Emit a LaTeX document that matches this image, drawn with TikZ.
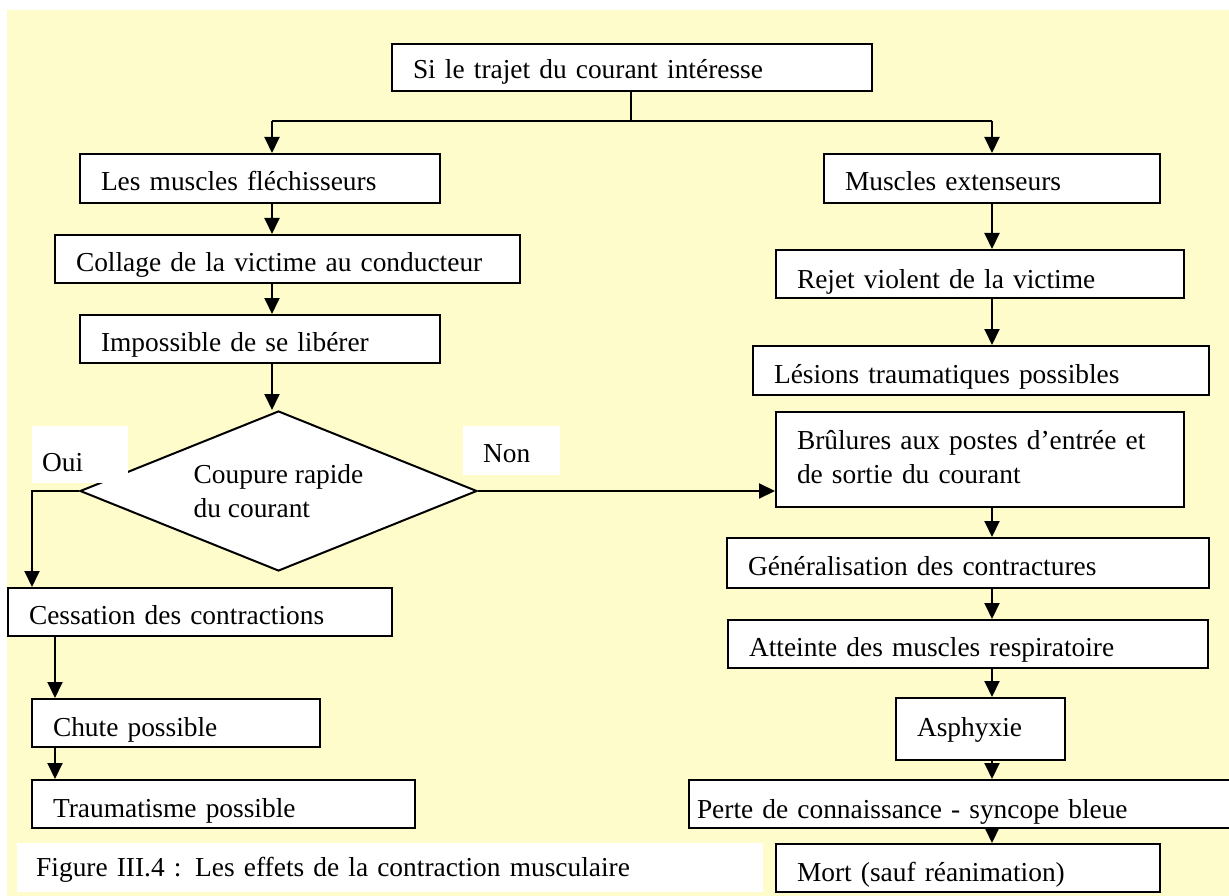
\documentclass[tikz,border=0pt]{standalone}
\usepackage{fontspec}
\setmainfont{Liberation Serif}
\usetikzlibrary{arrows.meta,shapes.geometric}
\definecolor{fond}{HTML}{FFFCCC}

\begin{document}
\begin{tikzpicture}[x=1pt,y=-1pt,
  font=\fontsize{27.4}{34}\selectfont,
  bx/.style={draw, fill=white, line width=2pt, anchor=north west, inner xsep=21pt, inner ysep=0pt,
    text height=37pt, text depth=11pt, align=left},
  lbl/.style={fill=white, anchor=north west, inner ysep=0pt, align=left},
  fl/.style={line width=2pt, -{Triangle[width=15pt,length=16pt]}},
  ln/.style={line width=2pt}]
\useasboundingbox (0,0) rectangle (1229,896);
\fill[white] (0,0) rectangle (1229,896);
\fill[fond] (7,10) rectangle (1229,896);

\node[bx, text width=438pt, text height=35pt, text depth=12pt] (trajet) at (391,43) {Si le trajet du courant intéresse};

\node[bx, text width=318pt, text depth=12pt] (flech) at (79,153) {Les muscles fléchisseurs};
\node[bx, text width=423pt, text height=36pt, text depth=12pt] (collage) at (54,234) {Collage de la victime au conducteur};
\node[bx, text width=318pt, text height=36pt, text depth=12pt] (liberer) at (79,314) {Impossible de se libérer};
\node[diamond, draw, fill=white, line width=2pt, minimum width=397pt, minimum height=160pt,
  shape aspect=2.48, inner sep=0pt, align=left] (coupure) at (278.5,491) {Coupure rapide\\du courant};
\node[lbl, inner xsep=10pt, text width=76pt, text height=45pt, text depth=12pt] (oui) at (32,426) {Oui};
\node[lbl, inner xsep=20pt, text width=57pt, text height=36pt, text depth=13pt] (non) at (463,426) {Non};
\node[bx, text width=342pt, text height=36pt, text depth=12pt] (cessation) at (7,587) {Cessation des contractions};
\node[bx, text width=246pt] (chute) at (31,698) {Chute possible};
\node[bx, text width=341pt] (trauma) at (31,779) {Traumatisme possible};
\node[lbl, inner xsep=19pt, text width=708pt, text height=33pt, text depth=16pt] (legende) at (17,843) {Figure III.4 : Les effets de la contraction musculaire};

\node[bx, text width=294pt, text depth=12pt] (extens) at (823,153) {Muscles extenseurs};
\node[bx, text width=366pt, text height=38pt, text depth=10pt] (rejet) at (775,249) {Rejet violent de la victime};
\node[bx, text width=414pt, text depth=12pt] (lesions) at (752,345) {Lésions traumatiques possibles};
\node[bx, text width=366pt, text depth=58pt] (brulures) at (775,411) {Brûlures aux postes d’entrée et\\de sortie du courant};
\node[bx, text width=440pt, text depth=13pt] (general) at (726,537) {Généralisation des contractures};
\node[bx, text width=438pt, text height=36pt, text depth=12pt] (atteinte) at (727,619) {Atteinte des muscles respiratoire};
\node[bx, text width=127pt, text height=38pt, text depth=24pt] (asphyxie) at (895,697) {Asphyxie};
\node[bx, inner xsep=8pt, text width=544pt, text height=38pt, text depth=10pt] (perte) at (688,779) {Perte de connaissance - syncope bleue};
\node[bx, text width=342pt] (mort) at (775,843) {Mort (sauf réanimation)};

\coordinate (noeud) at (631,121);
\coordinate (gauche) at (272,121);
\coordinate (droite) at (992,121);
\coordinate (coin) at (32,491);
\coordinate (colonne) at (55,635);

\draw[ln] (trajet.south -| noeud) -- (noeud);
\draw[ln] (gauche) -- (droite);
\draw[fl] (gauche) -- (gauche |- flech.north);
\draw[fl] (droite) -- (droite |- extens.north);
\draw[fl] (flech.south -| gauche) -- (collage.north -| gauche);
\draw[fl] (collage.south -| gauche) -- (liberer.north -| gauche);
\draw[fl] (liberer.south -| gauche) -- (gauche |- coupure.north);
\draw[fl] (coupure.west) -- (coin) -- (coin |- cessation.north);
\draw[fl] (coupure.east) -- (brulures.west |- coupure.east);
\draw[fl] (cessation.south -| colonne) -- (chute.north -| colonne);
\draw[fl] (chute.south -| colonne) -- (trauma.north -| colonne);
\foreach \a/\b in {extens/rejet, rejet/lesions, brulures/general, general/atteinte,
  atteinte/asphyxie, asphyxie/perte, perte/mort}
  \draw[fl] (\a.south -| droite) -- (\b.north -| droite);

\end{tikzpicture}
\end{document}
